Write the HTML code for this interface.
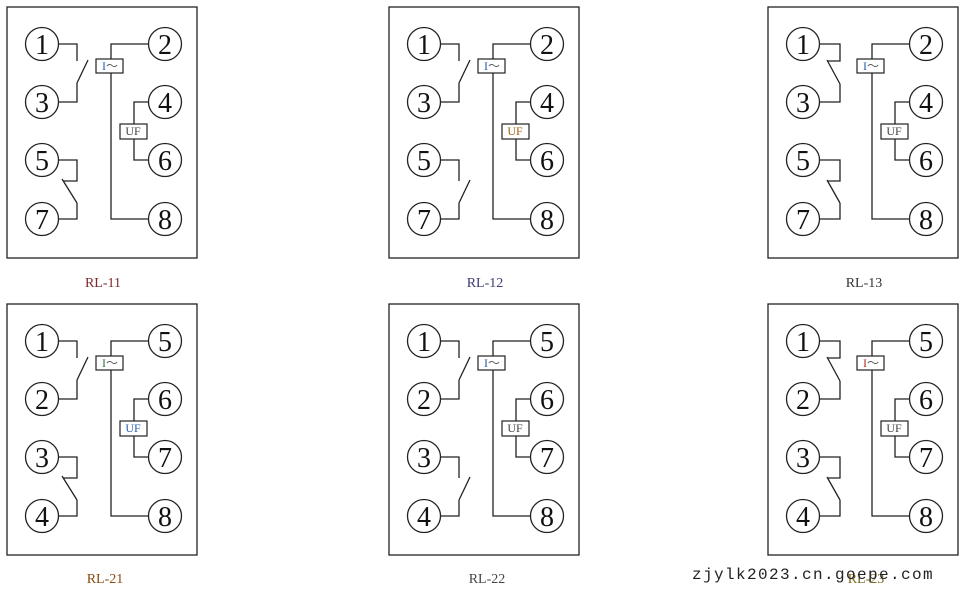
<!DOCTYPE html>
<html><head><meta charset="utf-8"><style>
html,body{margin:0;padding:0;background:#fff;}
svg{display:block}
.c{fill:#fff;stroke:#222;stroke-width:1.3}
.w{fill:none;stroke:#222;stroke-width:1.3}
.n{font-family:"Liberation Serif",serif;font-size:28px;fill:#111;text-anchor:middle}
.b{fill:#fff;stroke:#222;stroke-width:1.2}
.s{font-family:"Liberation Serif",serif;font-size:12px;text-anchor:middle}
.l{font-family:"Liberation Serif",serif;font-size:14px;text-anchor:middle}
</style></head><body>
<svg width="967" height="591" viewBox="0 0 967 591" xmlns="http://www.w3.org/2000/svg">
<g transform="translate(0,0)">
<rect x="7" y="7" width="190" height="251" class="w"/>
<path class="w" d="M58,44H77V61M77,83L88,60M77,83V102H58"/>
<path class="w" d="M58,160H77V181H63M62,179L77,203M77,203V219H58"/>
<path class="w" d="M149,44H111V59M111,73V219H149M149,102H134V124M134,139V160H149"/>
<rect class="b" x="96" y="59" width="27" height="14"/><text class="s" x="110" y="70"><tspan fill="#2a5db0">I</tspan><tspan fill="#555">～</tspan></text>
<rect class="b" x="120" y="124" width="27" height="15"/><text class="s" x="133" y="135" fill="#444">UF</text>
<circle class="c" cx="42" cy="44" r="16.5"/><text class="n" x="42" y="54">1</text>
<circle class="c" cx="42" cy="102" r="16.5"/><text class="n" x="42" y="112">3</text>
<circle class="c" cx="42" cy="160" r="16.5"/><text class="n" x="42" y="170">5</text>
<circle class="c" cx="42" cy="219" r="16.5"/><text class="n" x="42" y="229">7</text>
<circle class="c" cx="165" cy="44" r="16.5"/><text class="n" x="165" y="54">2</text>
<circle class="c" cx="165" cy="102" r="16.5"/><text class="n" x="165" y="112">4</text>
<circle class="c" cx="165" cy="160" r="16.5"/><text class="n" x="165" y="170">6</text>
<circle class="c" cx="165" cy="219" r="16.5"/><text class="n" x="165" y="229">8</text>
<text class="l" x="103" y="287" fill="#7a2a2a">RL-11</text>
</g>
<g transform="translate(382,0)">
<rect x="7" y="7" width="190" height="251" class="w"/>
<path class="w" d="M58,44H77V61M77,83L88,60M77,83V102H58"/>
<path class="w" d="M58,160H77V181M77,203L88,180M77,203V219H58"/>
<path class="w" d="M149,44H111V59M111,73V219H149M149,102H134V124M134,139V160H149"/>
<rect class="b" x="96" y="59" width="27" height="14"/><text class="s" x="110" y="70"><tspan fill="#2a5db0">I</tspan><tspan fill="#555">～</tspan></text>
<rect class="b" x="120" y="124" width="27" height="15"/><text class="s" x="133" y="135" fill="#a06010">UF</text>
<circle class="c" cx="42" cy="44" r="16.5"/><text class="n" x="42" y="54">1</text>
<circle class="c" cx="42" cy="102" r="16.5"/><text class="n" x="42" y="112">3</text>
<circle class="c" cx="42" cy="160" r="16.5"/><text class="n" x="42" y="170">5</text>
<circle class="c" cx="42" cy="219" r="16.5"/><text class="n" x="42" y="229">7</text>
<circle class="c" cx="165" cy="44" r="16.5"/><text class="n" x="165" y="54">2</text>
<circle class="c" cx="165" cy="102" r="16.5"/><text class="n" x="165" y="112">4</text>
<circle class="c" cx="165" cy="160" r="16.5"/><text class="n" x="165" y="170">6</text>
<circle class="c" cx="165" cy="219" r="16.5"/><text class="n" x="165" y="229">8</text>
<text class="l" x="103" y="287" fill="#3a3a70">RL-12</text>
</g>
<g transform="translate(761,0)">
<rect x="7" y="7" width="190" height="251" class="w"/>
<path class="w" d="M58,44H79V61H66M66,60L79,84M79,84V102H58"/>
<path class="w" d="M58,160H79V181H66M66,180L79,203M79,203V219H58"/>
<path class="w" d="M149,44H111V59M111,73V219H149M149,102H134V124M134,139V160H149"/>
<rect class="b" x="96" y="59" width="27" height="14"/><text class="s" x="110" y="70"><tspan fill="#2a5db0">I</tspan><tspan fill="#555">～</tspan></text>
<rect class="b" x="120" y="124" width="27" height="15"/><text class="s" x="133" y="135" fill="#444">UF</text>
<circle class="c" cx="42" cy="44" r="16.5"/><text class="n" x="42" y="54">1</text>
<circle class="c" cx="42" cy="102" r="16.5"/><text class="n" x="42" y="112">3</text>
<circle class="c" cx="42" cy="160" r="16.5"/><text class="n" x="42" y="170">5</text>
<circle class="c" cx="42" cy="219" r="16.5"/><text class="n" x="42" y="229">7</text>
<circle class="c" cx="165" cy="44" r="16.5"/><text class="n" x="165" y="54">2</text>
<circle class="c" cx="165" cy="102" r="16.5"/><text class="n" x="165" y="112">4</text>
<circle class="c" cx="165" cy="160" r="16.5"/><text class="n" x="165" y="170">6</text>
<circle class="c" cx="165" cy="219" r="16.5"/><text class="n" x="165" y="229">8</text>
<text class="l" x="103" y="287" fill="#333">RL-13</text>
</g>
<g transform="translate(0,297)">
<rect x="7" y="7" width="190" height="251" class="w"/>
<path class="w" d="M58,44H77V61M77,83L88,60M77,83V102H58"/>
<path class="w" d="M58,160H77V181H63M62,179L77,203M77,203V219H58"/>
<path class="w" d="M149,44H111V59M111,73V219H149M149,102H134V124M134,139V160H149"/>
<rect class="b" x="96" y="59" width="27" height="14"/><text class="s" x="110" y="70"><tspan fill="#2a7a30">I</tspan><tspan fill="#555">～</tspan></text>
<rect class="b" x="120" y="124" width="27" height="15"/><text class="s" x="133" y="135" fill="#2a5db0">UF</text>
<circle class="c" cx="42" cy="44" r="16.5"/><text class="n" x="42" y="54">1</text>
<circle class="c" cx="42" cy="102" r="16.5"/><text class="n" x="42" y="112">2</text>
<circle class="c" cx="42" cy="160" r="16.5"/><text class="n" x="42" y="170">3</text>
<circle class="c" cx="42" cy="219" r="16.5"/><text class="n" x="42" y="229">4</text>
<circle class="c" cx="165" cy="44" r="16.5"/><text class="n" x="165" y="54">5</text>
<circle class="c" cx="165" cy="102" r="16.5"/><text class="n" x="165" y="112">6</text>
<circle class="c" cx="165" cy="160" r="16.5"/><text class="n" x="165" y="170">7</text>
<circle class="c" cx="165" cy="219" r="16.5"/><text class="n" x="165" y="229">8</text>
<text class="l" x="105" y="286" fill="#8a4a10">RL-21</text>
</g>
<g transform="translate(382,297)">
<rect x="7" y="7" width="190" height="251" class="w"/>
<path class="w" d="M58,44H77V61M77,83L88,60M77,83V102H58"/>
<path class="w" d="M58,160H77V181M77,203L88,180M77,203V219H58"/>
<path class="w" d="M149,44H111V59M111,73V219H149M149,102H134V124M134,139V160H149"/>
<rect class="b" x="96" y="59" width="27" height="14"/><text class="s" x="110" y="70"><tspan fill="#2a5db0">I</tspan><tspan fill="#555">～</tspan></text>
<rect class="b" x="120" y="124" width="27" height="15"/><text class="s" x="133" y="135" fill="#444">UF</text>
<circle class="c" cx="42" cy="44" r="16.5"/><text class="n" x="42" y="54">1</text>
<circle class="c" cx="42" cy="102" r="16.5"/><text class="n" x="42" y="112">2</text>
<circle class="c" cx="42" cy="160" r="16.5"/><text class="n" x="42" y="170">3</text>
<circle class="c" cx="42" cy="219" r="16.5"/><text class="n" x="42" y="229">4</text>
<circle class="c" cx="165" cy="44" r="16.5"/><text class="n" x="165" y="54">5</text>
<circle class="c" cx="165" cy="102" r="16.5"/><text class="n" x="165" y="112">6</text>
<circle class="c" cx="165" cy="160" r="16.5"/><text class="n" x="165" y="170">7</text>
<circle class="c" cx="165" cy="219" r="16.5"/><text class="n" x="165" y="229">8</text>
<text class="l" x="105" y="286" fill="#444">RL-22</text>
</g>
<g transform="translate(761,297)">
<rect x="7" y="7" width="190" height="251" class="w"/>
<path class="w" d="M58,44H79V61H66M66,60L79,84M79,84V102H58"/>
<path class="w" d="M58,160H79V181H66M66,180L79,203M79,203V219H58"/>
<path class="w" d="M149,44H111V59M111,73V219H149M149,102H134V124M134,139V160H149"/>
<rect class="b" x="96" y="59" width="27" height="14"/><text class="s" x="110" y="70"><tspan fill="#b03020">I</tspan><tspan fill="#555">～</tspan></text>
<rect class="b" x="120" y="124" width="27" height="15"/><text class="s" x="133" y="135" fill="#444">UF</text>
<circle class="c" cx="42" cy="44" r="16.5"/><text class="n" x="42" y="54">1</text>
<circle class="c" cx="42" cy="102" r="16.5"/><text class="n" x="42" y="112">2</text>
<circle class="c" cx="42" cy="160" r="16.5"/><text class="n" x="42" y="170">3</text>
<circle class="c" cx="42" cy="219" r="16.5"/><text class="n" x="42" y="229">4</text>
<circle class="c" cx="165" cy="44" r="16.5"/><text class="n" x="165" y="54">5</text>
<circle class="c" cx="165" cy="102" r="16.5"/><text class="n" x="165" y="112">6</text>
<circle class="c" cx="165" cy="160" r="16.5"/><text class="n" x="165" y="170">7</text>
<circle class="c" cx="165" cy="219" r="16.5"/><text class="n" x="165" y="229">8</text>
<text class="l" x="105" y="286" fill="#7a6a20">RL-23</text>
</g>
<text x="692" y="579" font-family="'Liberation Mono',monospace" font-size="16" letter-spacing="1.4" fill="#222">zjylk2023.cn.goepe.com</text>
</svg>
</body></html>
